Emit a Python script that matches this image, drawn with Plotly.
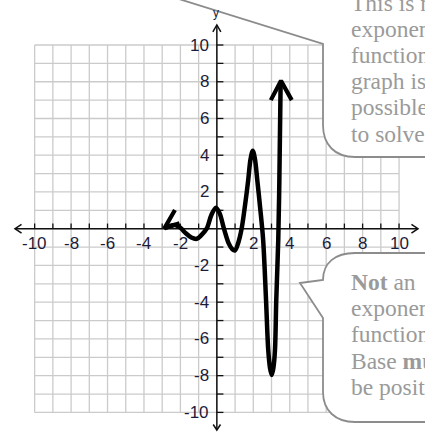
import plotly.graph_objects as go

# ---- data -------------------------------------------------------------
# sampled points along the drawn curve (x, y in graph units)
curve_x = [-2.88, -2.6, -2.3, -2.0, -1.7, -1.4, -1.1, -0.85, -0.56, -0.3, -0.05,
           0.15, 0.39, 0.65, 0.85, 1.0, 1.18, 1.36, 1.55, 1.72, 1.85, 1.97,
           2.09, 2.22, 2.38, 2.54, 2.7, 2.82, 2.92, 3.01, 3.10, 3.19, 3.26,
           3.37, 3.43, 3.5]
curve_y = [0.02, 0.14, 0.2, 0.05, -0.25, -0.48, -0.55, -0.35, 0.0, 0.75, 1.14,
           0.85, 0.0, -0.8, -1.12, -1.18, -0.75, 0.0, 1.3, 2.64, 3.8, 4.25,
           3.8, 2.64, 1.1, -0.6, -3.9, -6.6, -7.6, -7.96, -7.6, -6.6, -3.9,
           -0.6, 2.6, 7.9]

# arrowheads at the two ends of the curve
top_head_x = [2.96, 3.52, 4.11]
top_head_y = [7.0, 8.05, 7.0]
left_head_x = [-2.30, -2.88, -2.05]
left_head_y = [1.02, 0.02, 0.3]

grid_values = list(range(-10, 11))
tick_values = [-10, -8, -6, -4, -2, 2, 4, 6, 8, 10]
tick_labels = [str(v) for v in tick_values]

top_note = ["This is not an", "exponential", "function. The", "graph is not",
            "possible", "to solve"]
bottom_note = ["<b>Not</b> an", "exponential", "function.", "Base <b>must</b>",
               "be positive"]

# ---- geometry helpers -------------------------------------------------
W, H = 425, 432
X_RANGE = [-11.902, 11.424]
Y_RANGE = [-11.067, 12.450]


def px(x):
    return x / W


def py(y):
    return 1 - y / H


fig = go.Figure()

# graph-paper grid
gx, gy = [], []
for v in grid_values:
    gx += [v, v, None]
    gy += [-10, 10, None]
    gx += [-10, 10, None]
    gy += [v, v, None]
fig.add_trace(go.Scatter(x=gx, y=gy, mode="lines",
                         line=dict(color="#cbcbcb", width=1.3),
                         hoverinfo="skip"))

# axes with open arrowheads
ax_x = [-11.08, 11.04, None, 0, 0, None,
        -10.72, -11.08, -10.72, None, 10.68, 11.04, 10.68, None,
        -0.22, 0, 0.22, None, -0.2, 0, 0.2]
ax_y = [0, 0, None, -10.96, 11.09, None,
        0.24, 0, -0.24, None, 0.24, 0, -0.24, None,
        10.72, 11.09, 10.72, None, -10.66, -10.96, -10.66]
fig.add_trace(go.Scatter(x=ax_x, y=ax_y, mode="lines",
                         line=dict(color="#111111", width=1.5),
                         hoverinfo="skip"))

# tick marks
tx, ty = [], []
for v in grid_values:
    if v == 0:
        continue
    tx += [v, v, None]
    ty += [0, 0.28, None]
    tx += [0, 0.36, None]
    ty += [v, v, None]
fig.add_trace(go.Scatter(x=tx, y=ty, mode="lines",
                         line=dict(color="#111111", width=1.3),
                         hoverinfo="skip"))

# the curve
fig.add_trace(go.Scatter(x=curve_x, y=curve_y, mode="lines",
                         line=dict(color="black", width=4.5, shape="spline",
                                   smoothing=0.9),
                         hoverinfo="skip"))
fig.add_trace(go.Scatter(x=top_head_x, y=top_head_y, mode="lines",
                         line=dict(color="black", width=4.2),
                         hoverinfo="skip"))
fig.add_trace(go.Scatter(x=left_head_x, y=left_head_y, mode="lines",
                         line=dict(color="black", width=4.2),
                         hoverinfo="skip"))

label_font = dict(family="Liberation Sans, Arial", size=17, color="#1c1c3a")
annotations = []
for v, t in zip(tick_values, tick_labels):
    annotations.append(dict(x=v, y=0, xref="x", yref="y", text=t,
                            showarrow=False, yshift=-15, font=label_font,
                            xanchor="center", yanchor="middle"))
    annotations.append(dict(x=0, y=v, xref="x", yref="y", text=t,
                            showarrow=False, xshift=-6, font=label_font,
                            xanchor="right", yanchor="middle"))
annotations.append(dict(x=-0.05, y=11.74, xref="x", yref="y", text="y",
                        showarrow=False,
                        font=dict(family="Liberation Sans, Arial", size=12,
                                  color="#1c1c3a")))

# speech bubbles
bubble_line = dict(color="#8c8c8c", width=1.8)


def path(points):
    return " ".join(points)


top_path = path([
    f"M {px(118)},{py(-20)}",
    f"L {px(323)},{py(44)}",
    f"L {px(323)},{py(125)}",
    f"C {px(323)},{py(145)} {px(335)},{py(157)} {px(355)},{py(157)}",
    f"L {px(445)},{py(157)}",
    f"L {px(445)},{py(-20)}",
    "Z",
])
bottom_path = path([
    f"M {px(300)},{py(283)}",
    f"L {px(323)},{py(280)}",
    f"C {px(323)},{py(263)} {px(335)},{py(253)} {px(355)},{py(253)}",
    f"L {px(445)},{py(253)}",
    f"L {px(445)},{py(422)}",
    f"L {px(355)},{py(422)}",
    f"C {px(335)},{py(422)} {px(323)},{py(410)} {px(323)},{py(392)}",
    f"L {px(323)},{py(318)}",
    "Z",
])
shapes = [
    dict(type="path", xref="paper", yref="paper", path=top_path,
         fillcolor="white", line=bubble_line, layer="above"),
    dict(type="path", xref="paper", yref="paper", path=bottom_path,
         fillcolor="white", line=bubble_line, layer="above"),
]

note_font = dict(family="Liberation Serif, Times New Roman", size=23.5,
                 color="#9a9a9a")
for i, line in enumerate(top_note):
    annotations.append(dict(x=px(349), y=py(10.5 + 26.2 * i - 8),
                            xref="paper", yref="paper", text=line,
                            showarrow=False, xanchor="left",
                            yanchor="middle", font=note_font))
for i, line in enumerate(bottom_note):
    annotations.append(dict(x=px(349), y=py(290 + 26.2 * i - 8),
                            xref="paper", yref="paper", text=line,
                            showarrow=False, xanchor="left",
                            yanchor="middle", font=note_font))

fig.update_layout(
    width=W, height=H,
    margin=dict(l=0, r=0, t=0, b=0),
    paper_bgcolor="white", plot_bgcolor="white",
    showlegend=False,
    xaxis=dict(range=X_RANGE, visible=False, fixedrange=True),
    yaxis=dict(range=Y_RANGE, visible=False, fixedrange=True),
    shapes=shapes,
    annotations=annotations,
)

fig.write_html("out.html")
